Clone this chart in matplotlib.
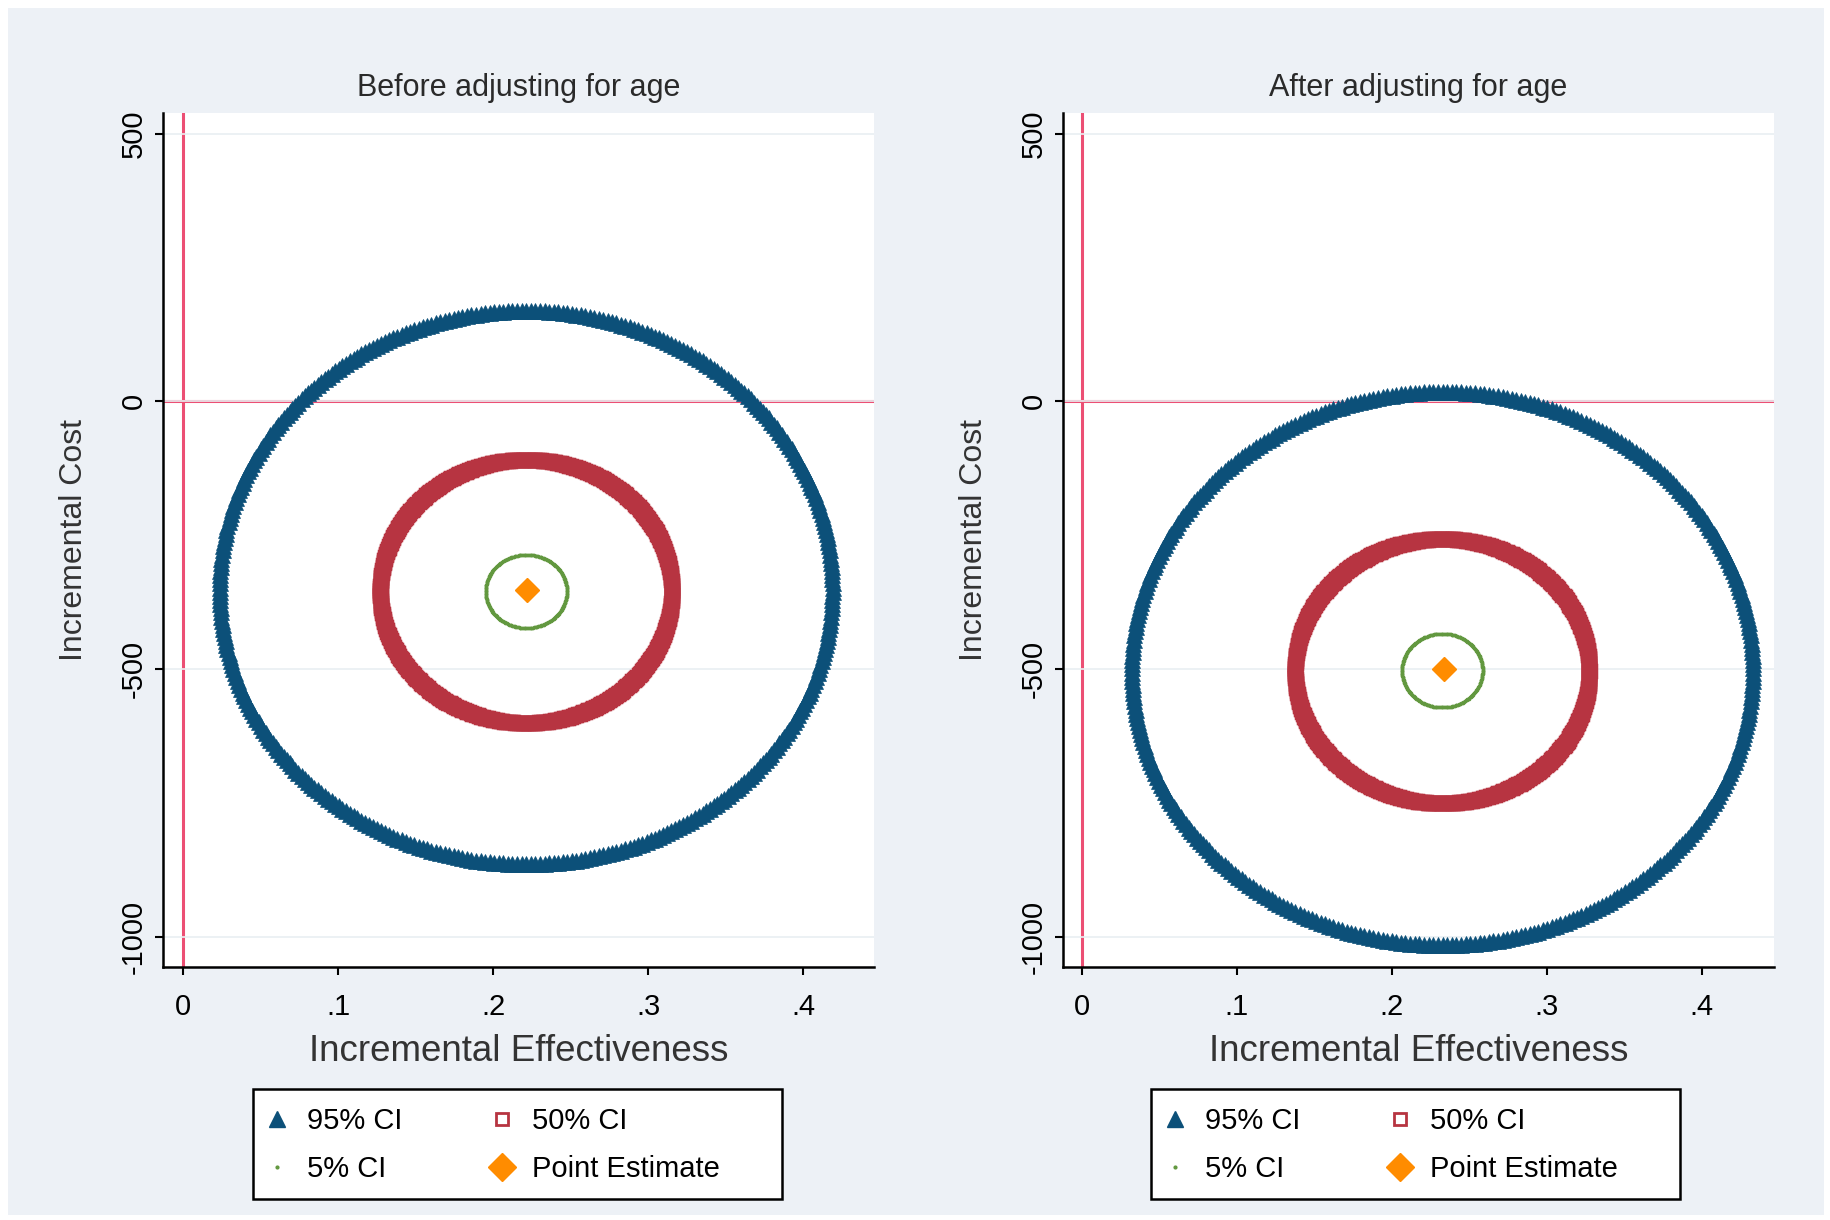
import numpy as np
import matplotlib.pyplot as plt
from matplotlib.lines import Line2D
from matplotlib.patches import Rectangle

plt.rcParams['font.family'] = ['Liberation Sans', 'DejaVu Sans']

# values (left panel, right panel)
panel_titles = ["Before adjusting for age", "After adjusting for age"]
point_x = [0.2216, 0.2336]
point_y = [-353, -501]

# confidence regions: centre, half-width (effectiveness), half-height (cost)
ci95_cx = [0.2213, 0.2327]
ci95_cy = [-348, -499]
ci95_hw = [0.1975, 0.2002]
ci95_hh = [517, 517]

ci50_cx = [0.2213, 0.2326]
ci50_cy = [-355, -504]
ci50_hw = [0.094, 0.0949]
ci50_hh = [246, 247]

ci05_cx = [0.2214, 0.2326]
ci05_cy = [-355, -503]
ci05_hw = [0.0262, 0.026]
ci05_hh = [68.5, 69]

xticks = [0, 0.1, 0.2, 0.3, 0.4]
xticklabels = ["0", ".1", ".2", ".3", ".4"]
yticks = [500, 0, -500, -1000]
yticklabels = ["500", "0", "-500", "-1000"]
legend_labels = ["95% CI", "5% CI", "50% CI", "Point Estimate"]

c95 = "#0c5079"
c50 = "#b73441"
c05 = "#62983f"
cpe = "#ff8c00"
cref = "#ec4f74"
bg = "#edf1f6"


def ring(cx, cy, hw, hh, n):
    t = np.linspace(0, 2 * np.pi, n, endpoint=False)
    return cx + hw * np.cos(t), cy + hh * np.sin(t)


W, H = 1831, 1220
fig = plt.figure(figsize=(W / 100, H / 100), dpi=100)
fig.patch.set_facecolor("white")
fig.patches.append(Rectangle((8 / W, 5 / H), 1816 / W, 1207 / H,
                             transform=fig.transFigure, facecolor=bg,
                             edgecolor="none", zorder=-10))

lefts = [163, 1063]
xlims = [(-0.0128, 0.4455), (-0.0121, 0.4465)]
for i in range(2):
    ax = fig.add_axes([lefts[i] / W, 253 / H, 711 / W, 854 / H])
    ax.set_facecolor("white")

    ax.grid(axis="y", color="#e9eff2", lw=1.2, zorder=0)
    ax.axvline(0, color=cref, lw=2.2, zorder=1)
    ax.axhline(0, color=cref, lw=2.2, zorder=1)

    x, y = ring(ci95_cx[i], ci95_cy[i], ci95_hw[i], ci95_hh[i], 420)
    ax.plot(x, y, ls="none", marker="^", ms=11, color=c95, mec=c95, mew=0.5, zorder=3)
    x, y = ring(ci50_cx[i], ci50_cy[i], ci50_hw[i], ci50_hh[i], 500)
    ax.plot(x, y, ls="none", marker="s", ms=8, mfc="none", mec=c50, mew=2.5, zorder=3)
    x, y = ring(ci05_cx[i], ci05_cy[i], ci05_hw[i], ci05_hh[i], 300)
    ax.plot(x, y, ls="none", marker="o", ms=1.6, color=c05, zorder=3)
    ax.plot([point_x[i]], [point_y[i]], ls="none", marker="D", ms=12.5, color=cpe, zorder=4)

    ax.set_xlim(*xlims[i])
    ax.set_ylim(-1057, 539)
    ax.set_xticks(xticks)
    ax.set_xticklabels(xticklabels)
    ax.set_yticks(yticks)
    ax.set_yticklabels(yticklabels, rotation=90, va="center")
    ax.tick_params(axis="both", length=6, width=1.5, labelsize=21, colors="black")
    ax.tick_params(axis="x", pad=13)
    ax.tick_params(axis="y", pad=5)
    for s in ["top", "right"]:
        ax.spines[s].set_visible(False)
    for s in ["left", "bottom"]:
        ax.spines[s].set_linewidth(1.8)

    ax.set_title(panel_titles[i], fontsize=22, pad=12.5, color="#2a2a2a")
    ax.set_xlabel("Incremental Effectiveness", fontsize=26.5, labelpad=9, color="#333333")
    ax.set_ylabel("Incremental Cost", fontsize=23, labelpad=22, color="#333333")

    # legend frame and entries
    off = 0 if i == 0 else 898
    fig.patches.append(Rectangle(((253 + off) / W, 1 - 1199 / H), 529 / W, 110 / H,
                                 transform=fig.transFigure, facecolor="white",
                                 edgecolor="black", lw=1.8, zorder=-1))
    handles = [
        Line2D([], [], ls="none", marker="^", ms=12, color=c95),
        Line2D([], [], ls="none", marker="o", ms=2, color=c05),
        Line2D([], [], ls="none", marker="s", ms=8, mfc="none", mec=c50, mew=2),
        Line2D([], [], ls="none", marker="D", ms=14, color=cpe),
    ]
    fig.legend(handles, legend_labels, ncol=2, loc="upper left",
               bbox_to_anchor=((268.2 + off) / W, 1 - 1107 / H),
               bbox_transform=fig.transFigure, fontsize=21, frameon=False,
               borderpad=0, borderaxespad=0, handlelength=0.6,
               handletextpad=0.73, columnspacing=3.11, labelspacing=0.7)

fig.savefig("out.png", dpi=100, facecolor=fig.get_facecolor())
